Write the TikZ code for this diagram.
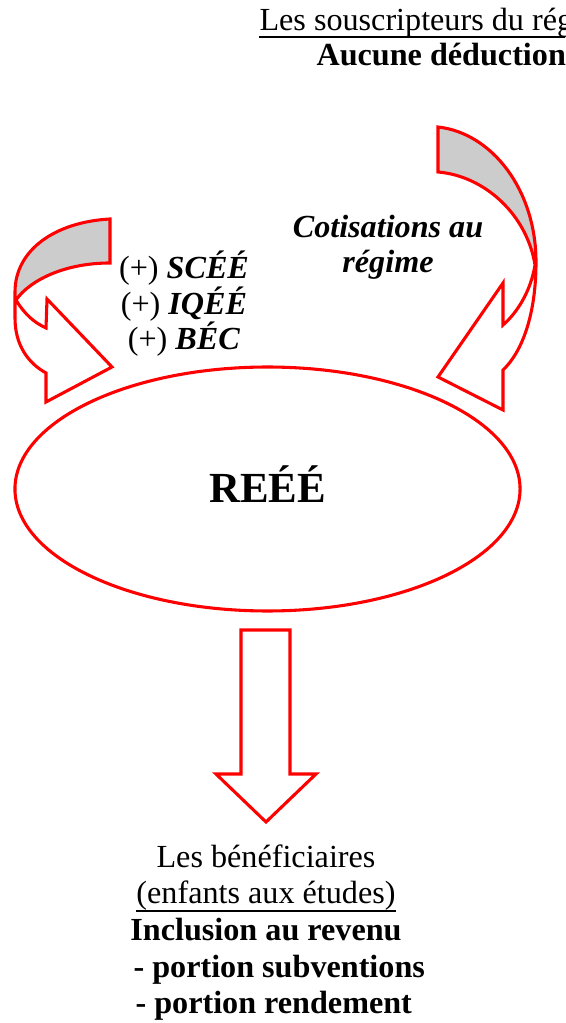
\documentclass[tikz,border=0pt]{standalone}
\usepackage{fontspec}
\setmainfont{Liberation Serif}
\usetikzlibrary{shapes.geometric}
\definecolor{rouge}{RGB}{255,0,0}
\definecolor{grisdos}{RGB}{204,204,204}

\begin{document}
\begin{tikzpicture}[
    x=0.373pt, y=-0.373pt,
    every node/.style={font=\fontsize{12}{14}\selectfont, inner sep=0pt},
    contour/.style={draw=rouge, line width=1.15pt, line join=miter, miter limit=10},
    dos/.style={fill=grisdos},
    texte/.style={anchor=base west},
    centre/.style={anchor=base},
    gras/.style={font=\fontsize{12}{14}\selectfont\bfseries},
    grasit/.style={font=\fontsize{12}{14}\selectfont\bfseries\itshape},
    souligne/.style={line width=0.6pt}
]
\useasboundingbox (0,0) rectangle (565,1023);
\clip (0,0) rectangle (565,1023);

% Régime
\node[contour, ellipse, minimum width=188.4pt, minimum height=91pt,
      font=\fontsize{16}{19}\selectfont\bfseries, text height=9.7pt, text depth=0pt]
      (reee) at (267.5,489) {REÉÉ};

% Flèche gauche
\fill[dos] (110,219) .. controls (55,222) and (15,250) .. (15,292) -- (16,300)
    .. controls (30,280) and (65,263) .. (110,263) -- cycle;
\draw[contour] (110,219) .. controls (55,222) and (15,250) .. (15,292) -- (15,318)
    .. controls (15,345) and (28,363) .. (46,373) -- (46,402) -- (112,367) -- (47,299)
    -- (46,328) .. controls (35,323) and (25,315) .. (16,300)
    .. controls (30,280) and (65,263) .. (110,263) -- cycle;

% Flèche droite
\fill[dos] (438,127) .. controls (492,133) and (536,190) .. (536,262) -- (535,265)
    .. controls (527,215) and (485,176) .. (438,172) -- cycle;
\draw[contour] (438,127) .. controls (492,133) and (536,190) .. (536,262)
    .. controls (536,315) and (522,352) .. (503,370) -- (503,410) -- (438,377) -- (503,283)
    -- (503,325) .. controls (518,312) and (531,290) .. (535,265)
    .. controls (527,215) and (485,176) .. (438,172) -- cycle;

% Flèche vers les bénéficiaires
\draw[contour] (241,630) -- (290,630) -- (290,774) -- (316,774) -- (266,822)
    -- (216,774) -- (241,774) -- cycle;

% Textes
\node[texte] (souscr) at (259,31) {Les souscripteurs du régime};
\draw[souligne] ([yshift=-2.3pt]souscr.base west) -- ([yshift=-2.3pt]souscr.base east);
\node[texte, gras] (aucune) at (316,66) {Aucune déduction};

\node[centre] (scee) at (184,279) {(+) \textbf{\textit{SCÉÉ}}};
\node[centre] (iqee) at (184,315) {(+) \textbf{\textit{IQÉÉ}}};
\node[centre] (bec) at (184,350) {(+) \textbf{\textit{BÉC}}};

\node[centre, grasit] (cotis) at (388,238) {Cotisations au};
\node[centre, grasit] (regime) at (388,273) {régime};

\node[centre] (benef) at (266,867) {Les bénéficiaires};
\node[centre] (enfants) at (266,903) {(enfants aux études)};
\draw[souligne] ([yshift=-2.9pt]enfants.base west) -- ([yshift=-2.9pt]enfants.base east);
\node[centre, gras] (inclusion) at (266,940) {Inclusion au revenu};
\node[texte, gras] (subv) at (133,977) {- portion subventions};
\node[texte, gras] (rend) at (135,1013) {- portion rendement};

\end{tikzpicture}
\end{document}
